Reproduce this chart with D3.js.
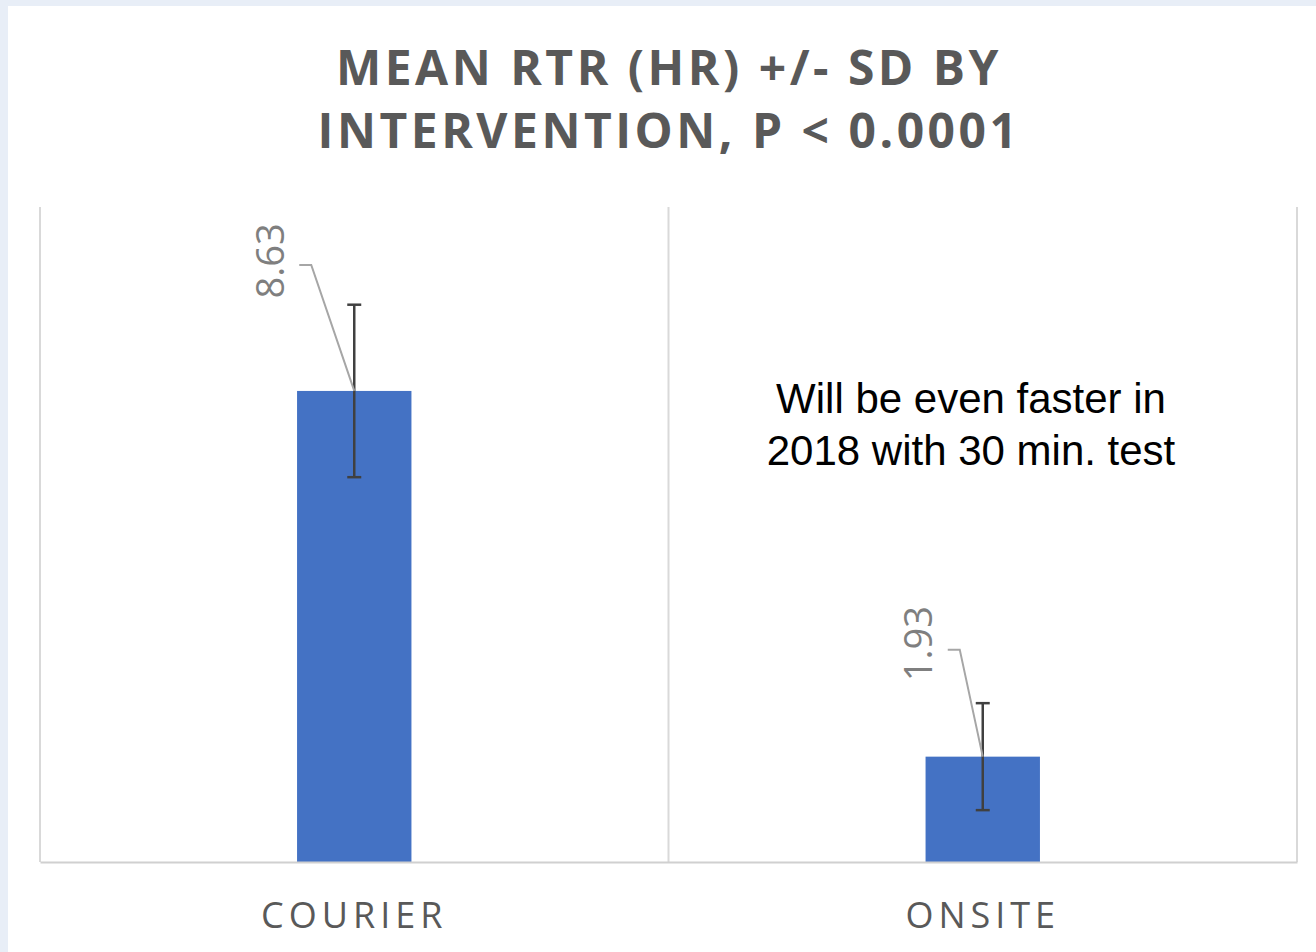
<!DOCTYPE html>
<html><head><meta charset="utf-8">
<script src="https://cdn.jsdelivr.net/npm/d3@7"></script>
<style>html,body{margin:0;padding:0;background:#fff;}svg{display:block;}</style>
</head><body>
<svg id="chart" width="1316" height="952"></svg>
<script>
const categories = ["COURIER", "ONSITE"];
const means = [8.63, 1.93];
const sds = [1.58, 0.98];
const titleLines = ["MEAN RTR (HR) +/- SD BY", "INTERVENTION, P < 0.0001"];
const noteLines = ["Will be even faster in", "2018 with 30 min. test"];
const yDomain = [0, 12];

const W = 1316, H = 952;
const m = {left: 40, right: 19, top: 207, bottom: 90};
const svg = d3.select("#chart");

// background frame
svg.append("rect").attr("x",0).attr("y",0).attr("width",W).attr("height",H).attr("fill","#e8eef7");
svg.append("rect").attr("x",8).attr("y",6).attr("width",W-8).attr("height",H-6).attr("fill","#ffffff");

const x = d3.scaleBand().domain(categories).range([m.left, W - m.right]).paddingInner(0).paddingOuter(0);
const y = d3.scaleLinear().domain(yDomain).range([H - m.bottom, m.top]);
const barW = x.bandwidth() * 0.182;

// vertical gridlines at category boundaries
const bounds = categories.map(c => x(c)).concat([x(categories[categories.length-1]) + x.bandwidth()]);
svg.append("g").selectAll("line").data(bounds).join("line")
  .attr("x1", d => d).attr("x2", d => d)
  .attr("y1", y(yDomain[1])).attr("y2", y(0))
  .attr("stroke", "#d9d9d9").attr("stroke-width", 2);

// bars
svg.append("g").selectAll("rect").data(categories).join("rect")
  .attr("x", (d) => x(d) + x.bandwidth()/2 - barW/2)
  .attr("y", (d,i) => y(means[i]))
  .attr("width", barW)
  .attr("height", (d,i) => y(0) - y(means[i]))
  .attr("fill", "#4472c4");

// x axis line
const xAxis = d3.axisBottom(x).tickSize(0).tickPadding(40);
const gx = svg.append("g").attr("transform", `translate(0,${y(0)})`).call(xAxis);
gx.select(".domain").attr("stroke", "#d0d0d0").attr("stroke-width", 2);
gx.selectAll("text")
  .attr("font-family", "'Open Sans', sans-serif")
  .attr("font-size", 36)
  .attr("letter-spacing", "5px")
  .attr("fill", "#595959");

// error bars
const eb = svg.append("g").attr("stroke", "#404040").attr("stroke-width", 2.5);
categories.forEach((c, i) => {
  const cx = x(c) + x.bandwidth()/2;
  const yt = y(means[i] + sds[i]), yb = y(means[i] - sds[i]);
  eb.append("line").attr("x1", cx).attr("x2", cx).attr("y1", yt).attr("y2", yb);
  eb.append("line").attr("x1", cx-7).attr("x2", cx+7).attr("y1", yt).attr("y2", yt);
  eb.append("line").attr("x1", cx-7).attr("x2", cx+7).attr("y1", yb).attr("y2", yb);
});

// data labels with leader lines
const lbl = svg.append("g");
const offsets = [{dx:-70, dy:-126, lx:-55, ty:-4}, {dx:-51, dy:-107, lx:-35, ty:-6}];
categories.forEach((c, i) => {
  const cx = x(c) + x.bandwidth()/2;
  const yt = y(means[i]);
  const o = offsets[i];
  const ly = yt + o.dy;
  lbl.append("path")
    .attr("d", `M${cx + o.lx},${ly} L${cx + o.lx + 12},${ly} L${cx},${yt}`)
    .attr("fill", "none").attr("stroke", "#a6a6a6").attr("stroke-width", 2);
  lbl.append("text")
    .attr("transform", `translate(${cx + o.dx},${ly + o.ty}) rotate(-90)`)
    .attr("text-anchor", "middle")
    .attr("font-family", "'Open Sans', sans-serif")
    .attr("font-size", 38)
    .attr("fill", "#7f7f7f")
    .text(d3.format(".2f")(means[i]));
});

// title
svg.append("g").selectAll("text").data(titleLines).join("text")
  .attr("x", W/2 + 11).attr("y", (d,i) => 85 + i*63)
  .attr("text-anchor", "middle")
  .attr("font-family", "'Open Sans', sans-serif")
  .attr("font-weight", "bold")
  .attr("font-size", 48)
  .attr("letter-spacing", "3.5px")
  .attr("fill", "#595959")
  .text(d => d);

// annotation
svg.append("g").selectAll("text").data(noteLines).join("text")
  .attr("x", 971).attr("y", (d,i) => 413 + i*52)
  .attr("text-anchor", "middle")
  .attr("font-family", "'Liberation Sans', Arial, sans-serif")
  .attr("font-size", 42)
  .attr("fill", "#000")
  .text(d => d);
</script>
</body></html>
